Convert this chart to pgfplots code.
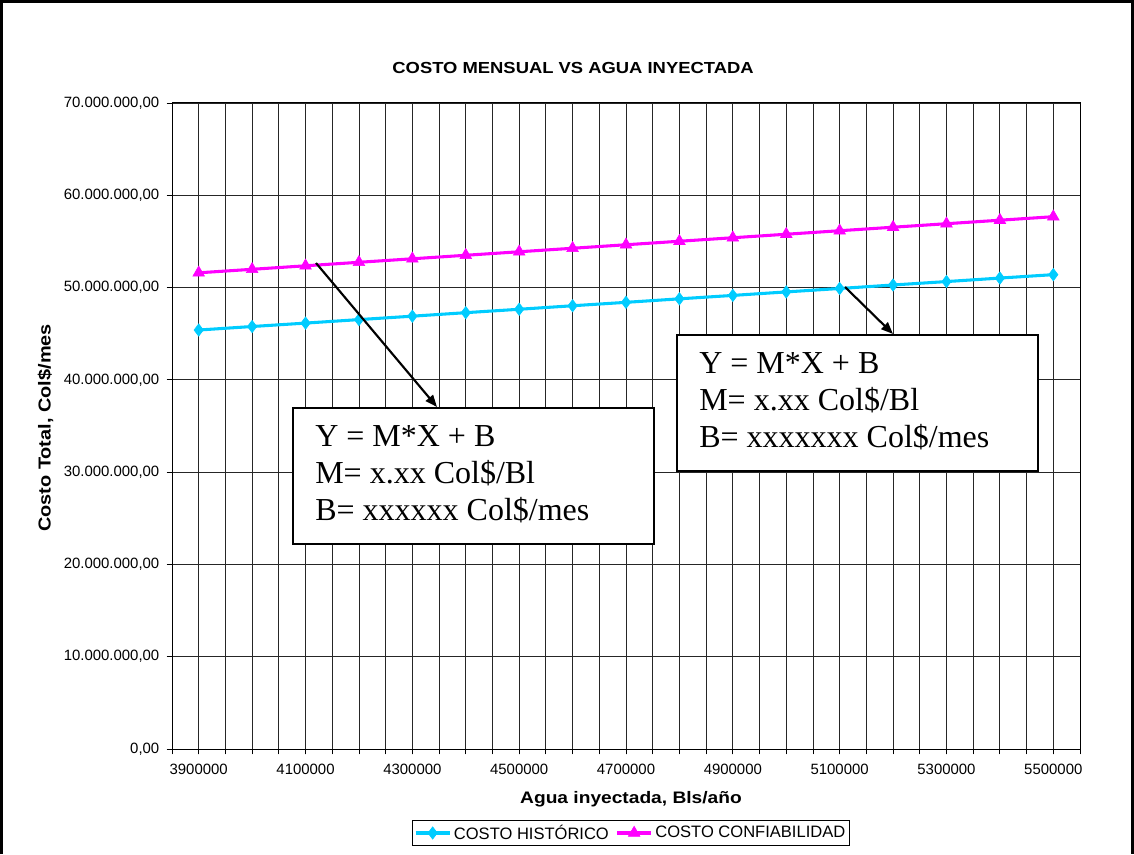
\documentclass[border=0pt]{standalone}
\usepackage{fontspec}
\setmainfont{Liberation Sans}
\newfontfamily\boxfont{Liberation Serif}
\newfontfamily\widesans[FakeStretch=1.15]{Liberation Sans}
\usepackage{pgfplots}
\pgfplotsset{compat=1.18}
\usetikzlibrary{arrows.meta}
\definecolor{histc}{RGB}{0,204,255}
\definecolor{confc}{RGB}{255,0,255}
\begin{document}
\begin{tikzpicture}
\path[use as bounding box] (0,0) rectangle (850.5pt,640.5pt);
\begin{axis}[
  at={(129pt,78.75pt)}, anchor=south west,
  scale only axis, width=681pt, height=484.5pt,
  xmin=-0.5, xmax=16.5, ymin=0, ymax=70,
  xtick={0,2,...,16},
  xticklabels={3900000,4100000,4300000,4500000,4700000,4900000,5100000,5300000,5500000},
  minor xtick={-0.5,0,...,16.5},
  ytick={0,10,...,70},
  yticklabels={{0,00},{10.000.000,00},{20.000.000,00},{30.000.000,00},{40.000.000,00},{50.000.000,00},{60.000.000,00},{70.000.000,00}},
  xmajorgrids, xminorgrids, ymajorgrids,
  major grid style={black!85, line width=0.6pt},
  minor grid style={black!85, line width=0.6pt},
  tick align=outside, xtick pos=bottom, ytick pos=left,
  major tick length=4pt, minor tick length=4pt,
  every tick/.style={black, line width=0.6pt},
  every minor tick/.style={black, line width=0.6pt},
  axis line style={black, line width=0.75pt},
  tick label style={font=\fontsize{11.2}{13}\selectfont},
  xticklabel style={yshift=-3.5pt},
  yticklabel style={xshift=-2pt},
  legend columns=2,
  legend style={at={(0.5055,-0.130)}, anchor=center, draw=black, line width=0.75pt,
    font=\fontsize{12.4}{14}\selectfont, inner sep=1.5pt,
    /tikz/every even column/.append style={column sep=3pt}},
  legend image code/.code={\draw[mark repeat=2,mark phase=2] plot coordinates {(0cm,0cm) (0.45cm,0cm) (0.9cm,0cm)};},
]
\addplot[color=histc, line width=2.3pt, mark=diamond*, mark size=4.6pt,
  mark options={solid, fill=histc, line width=0.5pt}] coordinates {
  (0,45.40) (1,45.78) (2,46.15) (3,46.53) (4,46.90) (5,47.28) (6,47.65) (7,48.03)
  (8,48.40) (9,48.78) (10,49.15) (11,49.53) (12,49.90) (13,50.28) (14,50.65) (15,51.03) (16,51.40)};
\addlegendentry{COSTO HISTÓRICO}
\addplot[color=confc, line width=2.3pt, mark=triangle*, mark size=5pt,
  mark options={solid, fill=confc, line width=0.5pt}] coordinates {
  (0,51.60) (1,51.98) (2,52.36) (3,52.74) (4,53.12) (5,53.50) (6,53.88) (7,54.26)
  (8,54.64) (9,55.02) (10,55.40) (11,55.78) (12,56.16) (13,56.54) (14,56.92) (15,57.30) (16,57.68)};
\addlegendentry{COSTO CONFIABILIDAD}
\end{axis}
\begin{scope}[x=0.75pt,y=-0.75pt,yshift=640.5pt]
  % outer frame
  \draw[line width=2.2pt] (1.5,854) -- (1.5,1.5) -- (1132.5,1.5) -- (1132.5,854);
  % title and axis labels
  \node[anchor=base, inner sep=0pt, font=\widesans\bfseries\fontsize{12}{14}\selectfont] at (573,73.3) {COSTO MENSUAL VS AGUA INYECTADA};
  \node[anchor=base, inner sep=0pt, font=\widesans\bfseries\fontsize{12.5}{15}\selectfont] at (631,803) {Agua inyectada, Bls/año};
  \node[anchor=base, inner sep=0pt, rotate=90, font=\widesans\bfseries\fontsize{13}{15}\selectfont] at (50.7,428) {Costo Total, Col\$/mes};
  % arrows
  \draw[line width=1.6pt, -{Triangle[length=9pt,width=7pt]}] (316,263) -- (437,407);
  \draw[line width=1.6pt, -{Triangle[length=9pt,width=7pt]}] (845,287) -- (893,334);
  % boxes
  \draw[line width=1.5pt, fill=white] (293,408) rectangle (654,544);
  \draw[line width=1.5pt, fill=white] (677,335) rectangle (1038,471);
  \begin{scope}[every node/.style={anchor=base west, inner sep=0pt, font=\boxfont\fontsize{24}{28}\selectfont}]
    \node at (315,446.7) {Y = M*X + B};
    \node at (315,483.7) {M= x.xx Col\$/Bl};
    \node at (315,520.7) {B= xxxxxx Col\$/mes};
    \node at (699,373.7) {Y = M*X + B};
    \node at (699,410.7) {M= x.xx Col\$/Bl};
    \node at (699,447.7) {B= xxxxxxx Col\$/mes};
  \end{scope}
\end{scope}
\end{tikzpicture}
\end{document}
